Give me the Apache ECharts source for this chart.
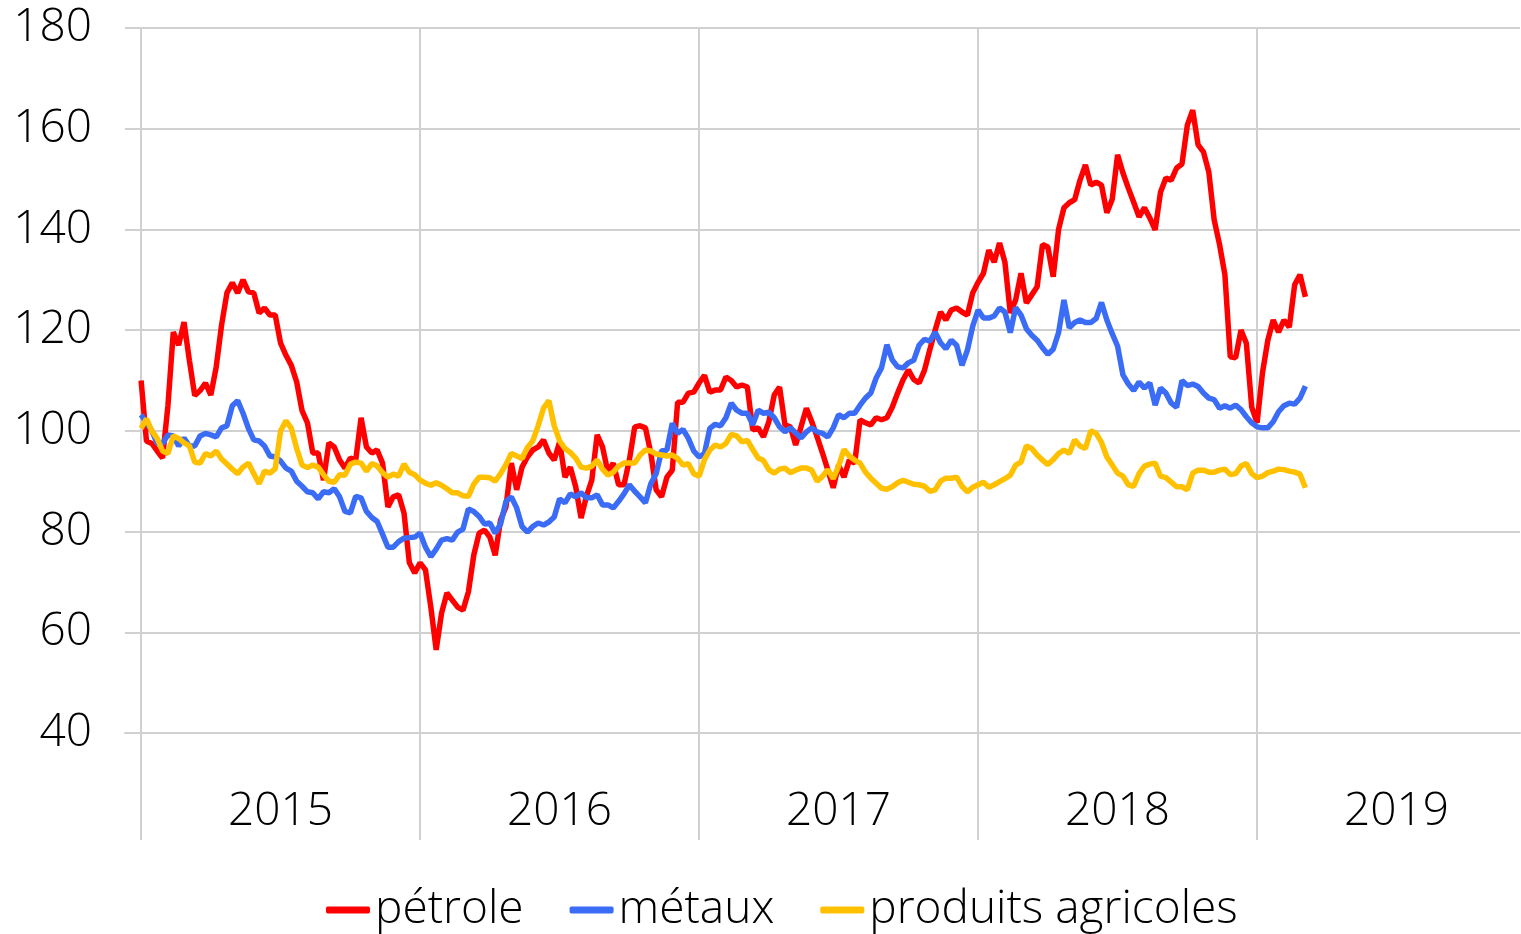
<!DOCTYPE html>
<html>
<head>
<meta charset="utf-8">
<script src="https://cdn.jsdelivr.net/npm/echarts/dist/echarts.min.js"></script>
<style>
  html, body { margin: 0; padding: 0; background: #fff; }
  #chart { width: 1521px; height: 934px; }
</style>
</head>
<body>
<div id="chart"></div>
<script>
// weekly index values, first point = first week of 2015
const years = ['2015', '2016', '2017', '2018', '2019'];
const seriesNames = ['pétrole', 'métaux', 'produits agricoles'];

const petrole = [
  110, 98, 97.5, 96, 94.6, 105, 119.6, 117, 121.6, 114,
  107, 108, 109.5, 107.1, 112.7, 121, 127.4, 129.4, 127.4, 130,
  127.6, 127.4, 123.4, 124.4, 123, 123, 117.4, 115, 113, 109.7,
  104, 101.6, 95.6, 95.6, 90.2, 97.6, 96.8, 94.2, 92.6, 94.6,
  94.2, 102.6, 96.8, 95.6, 96.2, 93.6, 84.9, 86.9, 87.3, 83.7,
  73.8, 71.8, 73.8, 72.4, 65, 56.5, 63.8, 67.8, 66.4, 65,
  64.4, 68, 75.3, 79.7, 80.3, 78.9, 75.3, 82.3, 84.9, 93.6,
  88.3, 92.8, 94.8, 96.2, 96.8, 98.2, 95.6, 94.2, 97.8, 90.8,
  92.8, 88.9, 82.7, 87, 90.2, 99.2, 96.8, 91.8, 93.6, 89.3,
  89.3, 94.2, 100.8, 101, 100.6, 95.6, 88.3, 86.9, 90.8, 92.2,
  105.7, 105.7, 107.5, 107.7, 109.5, 111, 107.7, 108.1, 108.1, 110.7,
  110, 108.7, 109.1, 108.7, 100.2, 100.6, 98.8, 101.8, 107.1, 108.7,
  101.2, 100.8, 97.2, 100.8, 104.5, 101.8, 98.8, 95.6, 92.2, 88.7,
  93.2, 90.8, 94.2, 93.6, 102.2, 101.6, 101.2, 102.6, 102.2, 102.6,
  104.7, 107.5, 110.1, 112.1, 110.2, 109.5, 112, 116.1, 120, 123.6,
  122, 124, 124.4, 123.6, 123, 127.4, 129.5, 131.3, 135.9, 133.5,
  137.3, 133.5, 123.4, 126, 131.3, 125.4, 127, 128.6, 137, 136.5,
  130.6, 140, 144.3, 145.3, 145.9, 149.8, 152.8, 148.8, 149.4, 148.8,
  143.3, 146, 154.8, 151.2, 148.2, 145.4, 142.5, 144.3, 142.3, 139.9,
  147.4, 150.2, 149.8, 152.2, 153, 160.7, 163.7, 156.8, 155.4, 151.4,
  141.9, 137, 131, 114.7, 114.5, 120, 117.4, 104.7, 101.6, 111.5,
  118, 122, 119.6, 122, 120.6, 129, 131, 126.6
];

const metaux = [
  103.2, 101.6, 100, 97.5, 97.5, 99.2, 99, 97, 98.6, 97,
  97, 99, 99.5, 99.2, 98.8, 100.6, 101, 105, 106, 103.5,
  100.5, 98.2, 98, 97, 95, 94.8, 94, 92.6, 92, 90,
  89, 87.9, 87.7, 86.5, 87.9, 87.7, 88.5, 86.9, 84, 83.7,
  87, 86.7, 84, 82.8, 82, 79.5, 76.9, 76.9, 78, 78.7,
  78.8, 78.9, 79.7, 76.9, 75, 76.5, 78.3, 78.6, 78.3, 79.9,
  80.5, 84.5, 84, 83, 81.5, 81.7, 79.7, 81.5, 86, 86.9,
  84.7, 81, 79.9, 81, 81.7, 81.3, 81.9, 82.9, 86.5, 85.7,
  87.5, 86.9, 87.7, 86.7, 86.7, 87.3, 85.3, 85.3, 84.7, 86,
  87.5, 89.3, 88, 86.9, 85.7, 89.5, 91.5, 96, 96.2, 101.5,
  99.5, 100.3, 98.5, 96, 94.8, 95.5, 100.5, 101.3, 101, 102.6,
  105.5, 104.1, 103.5, 103.5, 101.2, 104.1, 103.5, 103.7, 102.6, 100.8,
  99.8, 100.6, 99.6, 98.6, 99.8, 100.6, 99.8, 99.5, 98.8, 100.6,
  103.2, 102.6, 103.5, 103.5, 105.1, 106.5, 107.5, 110.5, 112.5, 117.1,
  114.1, 112.7, 112.5, 113.5, 114, 117, 118.2, 117.8, 119.6, 117.5,
  116.3, 118, 117, 113, 116, 120.8, 124, 122.4, 122.4, 122.8,
  124.4, 123.6, 119.5, 124.5, 123, 120.3, 119, 118, 116.5, 115.2,
  116.2, 119.5, 126, 120.5, 121.5, 122, 121.5, 121.5, 122.3, 125.5,
  122, 119.3, 116.8, 111.1, 109.3, 108, 109.7, 108.5, 109.5, 105.1,
  108.5, 107.5, 105.5, 104.7, 110, 109, 109.3, 108.8, 107.5, 106.5,
  106.2, 104.5, 105, 104.5, 105.1, 104.2, 102.8, 101.6, 100.8, 100.6,
  100.6, 101.8, 103.8, 105, 105.5, 105.3, 106.5, 108.9
];

const agricoles = [
  100.5, 102.4, 100, 98.5, 96, 95.5, 99, 98.5, 97.6, 97,
  93.8, 93.6, 95.5, 95, 96, 94.4, 93.4, 92.4, 91.5, 92.8,
  93.6, 91.5, 89.5, 92, 91.6, 92.5, 100, 102, 100.5, 96.5,
  93.2, 92.7, 93.2, 92.8, 91.3, 90, 89.8, 91.3, 91.2, 93.4,
  93.8, 93.6, 92, 93.5, 93, 91.7, 90.8, 91.4, 91, 93.4,
  91.8, 91.3, 90.2, 89.6, 89.2, 89.7, 89.2, 88.5, 87.7, 87.7,
  87.1, 87, 89.4, 90.8, 90.8, 90.7, 90, 91.5, 93.3, 95.5,
  95, 94.5, 96.7, 98, 101, 104.5, 106, 101, 98, 96.5,
  95.7, 94.6, 92.8, 92.6, 93, 94.2, 92.4, 91.2, 91.8, 93,
  93.6, 93.6, 93.6, 95.2, 96.2, 96, 95.4, 95.2, 95, 95.2,
  94.5, 93.2, 93.5, 91.5, 91, 94.3, 96.2, 97.2, 96.8, 97.5,
  99.3, 99, 97.8, 98.1, 96.3, 94.6, 94.1, 92.3, 91.6, 92.4,
  92.6, 91.7, 92.2, 92.6, 92.6, 92.2, 90, 91, 92.3, 90.5,
  93, 96.3, 95, 94.2, 93.6, 91.8, 90.6, 89.6, 88.6, 88.4,
  88.9, 89.7, 90.2, 89.8, 89.4, 89.3, 89, 88, 88.3, 90,
  90.6, 90.6, 90.8, 89, 87.9, 88.8, 89.3, 89.8, 88.8, 89.3,
  89.9, 90.5, 91.2, 93.2, 93.8, 97, 96.5, 95.2, 94.2, 93.3,
  94.3, 95.5, 96.2, 95.5, 98.2, 97, 96.5, 100, 99.5, 97.7,
  94.8, 93.2, 91.6, 91, 89.3, 89, 91.5, 93, 93.4, 93.6,
  91, 90.7, 89.8, 88.9, 88.9, 88.3, 91.6, 92.2, 92.2, 91.8,
  91.8, 92.2, 92.4, 91.3, 91.5, 93, 93.5, 91.5, 90.7, 91,
  91.7, 92, 92.4, 92.3, 92, 91.8, 91.4, 88.7
];

const WEEKS_BEFORE = 3;      // axis starts a few weeks before 2015
const WEEKS_PER_YEAR = 52;
const N_WEEKS = 261;
const weeks = [];
for (let i = 0; i < N_WEEKS; i++) weeks.push(String(i));

function isYearStart(i) {
  return i >= WEEKS_BEFORE && (i - WEEKS_BEFORE) % WEEKS_PER_YEAR === 0;
}
function isYearMid(i) {
  return i >= WEEKS_BEFORE && (i - WEEKS_BEFORE) % WEEKS_PER_YEAR === 26;
}
function pad(values) {
  const out = [];
  for (let i = 0; i < WEEKS_BEFORE; i++) out.push(null);
  return out.concat(values);
}

const FONT = '"Open Sans", "Noto Sans", sans-serif';
const GRID_COLOR = '#d0d0d0';

const option = {
  animation: false,
  textStyle: { fontFamily: FONT },
  grid: { left: 125, right: 1, top: 28, bottom: 201, containLabel: false },
  legend: {
    top: 887,
    left: 326,
    padding: 0,
    itemWidth: 44,
    itemHeight: 7,
    itemGap: 46,
    icon: 'roundRect',
    textStyle: { fontSize: 46, color: '#000', fontFamily: FONT, fontWeight: 300 },
    data: seriesNames
  },
  xAxis: {
    type: 'category',
    data: weeks,
    boundaryGap: false,
    axisLine: { lineStyle: { color: GRID_COLOR, width: 2 } },
    axisTick: {
      interval: (i) => isYearStart(i),
      length: 107,
      lineStyle: { color: GRID_COLOR, width: 2 }
    },
    splitLine: {
      show: true,
      interval: (i) => isYearStart(i),
      lineStyle: { color: GRID_COLOR, width: 2 }
    },
    axisLabel: {
      interval: (i) => isYearMid(i),
      formatter: (v) => years[Math.floor((Number(v) - WEEKS_BEFORE) / WEEKS_PER_YEAR)],
      margin: 56,
      fontSize: 46,
      fontWeight: 300,
      color: '#000',
      fontFamily: FONT
    }
  },
  yAxis: {
    type: 'value',
    min: 40,
    max: 180,
    interval: 20,
    axisLine: { show: false },
    axisTick: { show: false },
    splitLine: { lineStyle: { color: GRID_COLOR, width: 2 } },
    axisLabel: { fontSize: 46, fontWeight: 300, margin: 33, color: '#000', fontFamily: FONT }
  },
  series: [{
    name: seriesNames[0],
    type: 'line',
    data: pad(petrole),
    showSymbol: false,
    color: '#ff0000',
    lineStyle: { width: 5.5 },
    emphasis: { disabled: true }
  }, {
    name: seriesNames[1],
    type: 'line',
    data: pad(metaux),
    showSymbol: false,
    color: '#3b6cf5',
    lineStyle: { width: 5.5 },
    emphasis: { disabled: true }
  }, {
    name: seriesNames[2],
    type: 'line',
    data: pad(agricoles),
    showSymbol: false,
    color: '#ffc000',
    lineStyle: { width: 5.5 },
    emphasis: { disabled: true }
  }]
};

const chart = echarts.init(document.getElementById('chart'));
chart.setOption(option);
</script>
</body>
</html>
